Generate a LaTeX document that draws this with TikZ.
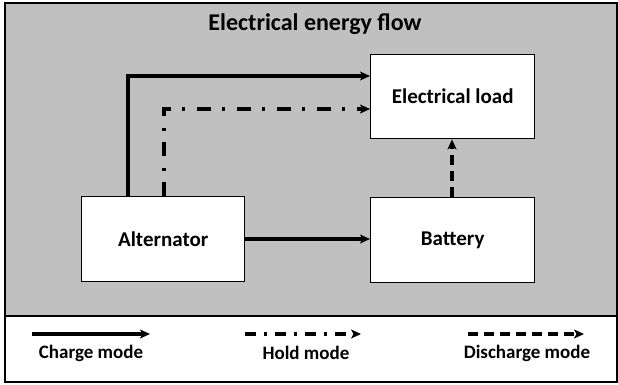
\documentclass[tikz,border=0pt]{standalone}
\usepackage{fontspec}
\setmainfont{Carlito}
\usetikzlibrary{arrows.meta}
\begin{document}
\begin{tikzpicture}[x=1pt,y=-1pt,
  box/.style={draw=black,line width=1.4pt,fill=white,inner sep=0pt,font=\bfseries\fontsize{21}{24}\selectfont},
  flow/.style={line width=3.2pt,-{Stealth[length=10pt,width=9pt,inset=2.5pt]}},
  dashdot/.style={dash pattern=on 14pt off 11pt on 3pt off 12pt},
  dashedline/.style={dash pattern=on 10pt off 6pt},
  lbl/.style={font=\bfseries\fontsize{19}{22}\selectfont}]
\useasboundingbox (0,0) rectangle (618,385);
\fill[white] (0,0) rectangle (618,385);
\fill[fill={rgb,255:red,192;green,192;blue,192}] (5,3) rectangle (617,316);
\draw[line width=2pt] (5,3) rectangle (617,382);
\draw[line width=1.5pt] (5,316) -- (617,316);
\node[font=\bfseries\fontsize{24}{28}\selectfont] (title) at (315,24) {Electrical energy flow};
\node[box,minimum width=164pt,minimum height=84pt,anchor=north west] (load) at (370,54) {Electrical load};
\node[box,minimum width=163pt,minimum height=85pt,anchor=north west] (alt) at (81,196) {Alternator};
\node[box,minimum width=164pt,minimum height=85pt,anchor=north west] (bat) at (370,197) {Battery};
\coordinate (a1) at (128,196);
\coordinate (a2) at (164,196);
\draw[flow] (alt.north west -| a1) |- (load.west |- 0,76);
\draw[flow,dashdot] (alt.north west -| a2) |- (load.west |- 0,109);
\draw[flow] (alt.east |- 0,239) -- (bat.west |- 0,239);
\draw[flow,dashedline] (bat.north -| 452,0) -- (load.south -| 452,0);
% legend
\coordinate (l1a) at (32,334); \coordinate (l1b) at (150,334);
\coordinate (l2a) at (245,334); \coordinate (l2b) at (361,334);
\coordinate (l3a) at (468,334); \coordinate (l3b) at (584,334);
\draw[flow] (l1a) -- (l1b);
\draw[flow,dash pattern=on 11pt off 8pt on 3pt off 8pt] (l2a) -- (l2b);
\draw[flow,dash pattern=on 10pt off 6pt] (l3a) -- (l3b);
\node[lbl] (t1) at (91,353) {Charge mode};
\node[lbl] (t2) at (306,353) {Hold mode};
\node[lbl] (t3) at (527,353) {Discharge mode};
\end{tikzpicture}
\end{document}
